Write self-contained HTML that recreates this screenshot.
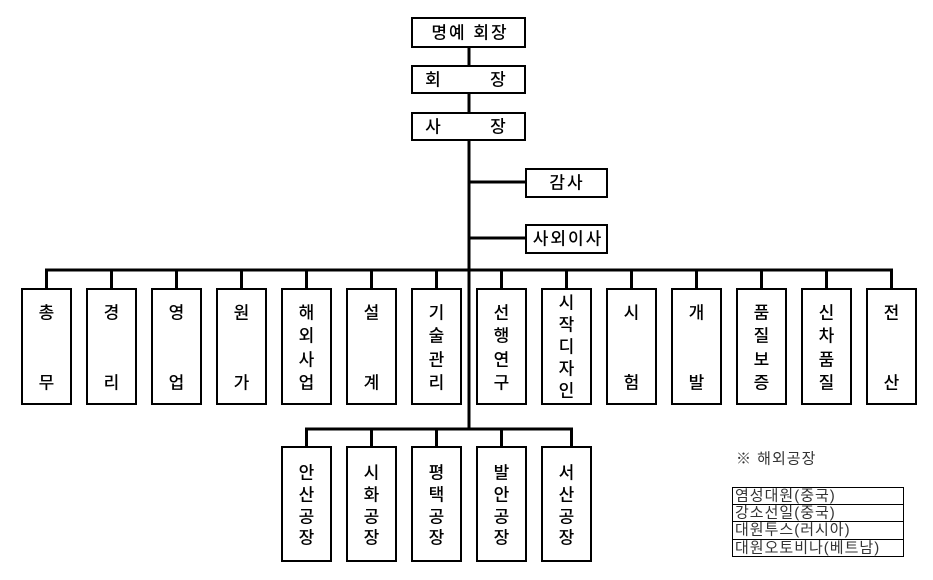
<!DOCTYPE html>
<html><head><meta charset="utf-8"><style>
html,body{margin:0;padding:0;background:#fff;}
svg{display:block;}
text{font-family:"Liberation Sans","Noto Sans CJK KR","NanumGothic",sans-serif;fill:#000;}
.t{font-size:17px;font-weight:500;text-anchor:middle;dominant-baseline:central;}
.w{letter-spacing:2px;}
.l{font-size:15px;letter-spacing:1px;fill:#333;dominant-baseline:central;}
</style></head><body>
<svg width="933" height="580" viewBox="0 0 933 580" xmlns="http://www.w3.org/2000/svg">
<g stroke="#000" stroke-width="3" fill="none">
<line x1="469" y1="47" x2="469" y2="66"/>
<line x1="469" y1="93" x2="469" y2="113"/>
<line x1="469" y1="140" x2="469" y2="429"/>
<line x1="469" y1="182" x2="526" y2="182"/>
<line x1="469" y1="238" x2="526" y2="238"/>
<line x1="45" y1="270" x2="893" y2="270"/>
<line x1="46.5" y1="270" x2="46.5" y2="289"/>
<line x1="111.5" y1="270" x2="111.5" y2="289"/>
<line x1="176.5" y1="270" x2="176.5" y2="289"/>
<line x1="241.5" y1="270" x2="241.5" y2="289"/>
<line x1="306.5" y1="270" x2="306.5" y2="289"/>
<line x1="371.5" y1="270" x2="371.5" y2="289"/>
<line x1="436.5" y1="270" x2="436.5" y2="289"/>
<line x1="501.5" y1="270" x2="501.5" y2="289"/>
<line x1="566.5" y1="270" x2="566.5" y2="289"/>
<line x1="631.5" y1="270" x2="631.5" y2="289"/>
<line x1="696.5" y1="270" x2="696.5" y2="289"/>
<line x1="761.5" y1="270" x2="761.5" y2="289"/>
<line x1="826.5" y1="270" x2="826.5" y2="289"/>
<line x1="891.5" y1="270" x2="891.5" y2="289"/>
<line x1="305" y1="429" x2="573" y2="429"/>
<line x1="306.5" y1="429" x2="306.5" y2="447"/>
<line x1="371.5" y1="429" x2="371.5" y2="447"/>
<line x1="436.5" y1="429" x2="436.5" y2="447"/>
<line x1="501.5" y1="429" x2="501.5" y2="447"/>
<line x1="571.5" y1="429" x2="571.5" y2="447"/>
</g>
<g stroke="#000" stroke-width="2" fill="#fff">
<rect x="412" y="18" width="113" height="29"/>
<rect x="412" y="66" width="113" height="27"/>
<rect x="412" y="113" width="113" height="27"/>
<rect x="526" y="169" width="81" height="28"/>
<rect x="526" y="225" width="81" height="28"/>
<rect x="22" y="289" width="49" height="115"/>
<rect x="87" y="289" width="49" height="115"/>
<rect x="152" y="289" width="49" height="115"/>
<rect x="217" y="289" width="49" height="115"/>
<rect x="282" y="289" width="49" height="115"/>
<rect x="347" y="289" width="49" height="115"/>
<rect x="412" y="289" width="49" height="115"/>
<rect x="477" y="289" width="49" height="115"/>
<rect x="542" y="289" width="49" height="115"/>
<rect x="607" y="289" width="49" height="115"/>
<rect x="672" y="289" width="49" height="115"/>
<rect x="737" y="289" width="49" height="115"/>
<rect x="802" y="289" width="49" height="115"/>
<rect x="867" y="289" width="49" height="115"/>
<rect x="282" y="447" width="49" height="114"/>
<rect x="347" y="447" width="49" height="114"/>
<rect x="412" y="447" width="49" height="114"/>
<rect x="477" y="447" width="49" height="114"/>
<rect x="542" y="447" width="49" height="114"/>
</g>
<text class="t w" x="470" y="33">명예 회장</text>
<text class="t" x="433" y="80">회</text><text class="t" x="498" y="80">장</text>
<text class="t" x="433" y="127">사</text><text class="t" x="498" y="127">장</text>
<text class="t w" x="567" y="183">감사</text>
<text class="t w" x="568" y="239">사외이사</text>

<text class="t" x="46.5" y="313">총</text><text class="t" x="46.5" y="383">무</text>
<text class="t" x="111.5" y="313">경</text><text class="t" x="111.5" y="383">리</text>
<text class="t" x="176.5" y="313">영</text><text class="t" x="176.5" y="383">업</text>
<text class="t" x="241.5" y="313">원</text><text class="t" x="241.5" y="383">가</text>
<text class="t" x="306.5" y="313">해</text><text class="t" x="306.5" y="336">외</text><text class="t" x="306.5" y="360">사</text><text class="t" x="306.5" y="383">업</text>
<text class="t" x="371.5" y="313">설</text><text class="t" x="371.5" y="383">계</text>
<text class="t" x="436.5" y="313">기</text><text class="t" x="436.5" y="336">술</text><text class="t" x="436.5" y="360">관</text><text class="t" x="436.5" y="383">리</text>
<text class="t" x="501.5" y="313">선</text><text class="t" x="501.5" y="336">행</text><text class="t" x="501.5" y="360">연</text><text class="t" x="501.5" y="383">구</text>
<text class="t" x="566.5" y="303">시</text><text class="t" x="566.5" y="325">작</text><text class="t" x="566.5" y="347">디</text><text class="t" x="566.5" y="369">자</text><text class="t" x="566.5" y="391">인</text>
<text class="t" x="631.5" y="313">시</text><text class="t" x="631.5" y="383">험</text>
<text class="t" x="696.5" y="313">개</text><text class="t" x="696.5" y="383">발</text>
<text class="t" x="761.5" y="313">품</text><text class="t" x="761.5" y="336">질</text><text class="t" x="761.5" y="360">보</text><text class="t" x="761.5" y="383">증</text>
<text class="t" x="826.5" y="313">신</text><text class="t" x="826.5" y="336">차</text><text class="t" x="826.5" y="360">품</text><text class="t" x="826.5" y="383">질</text>
<text class="t" x="891.5" y="313">전</text><text class="t" x="891.5" y="383">산</text>

<text class="t" x="306.5" y="473">안</text><text class="t" x="306.5" y="495">산</text><text class="t" x="306.5" y="517">공</text><text class="t" x="306.5" y="538">장</text>
<text class="t" x="371.5" y="473">시</text><text class="t" x="371.5" y="495">화</text><text class="t" x="371.5" y="517">공</text><text class="t" x="371.5" y="538">장</text>
<text class="t" x="436.5" y="473">평</text><text class="t" x="436.5" y="495">택</text><text class="t" x="436.5" y="517">공</text><text class="t" x="436.5" y="538">장</text>
<text class="t" x="501.5" y="473">발</text><text class="t" x="501.5" y="495">안</text><text class="t" x="501.5" y="517">공</text><text class="t" x="501.5" y="538">장</text>
<text class="t" x="566.5" y="473">서</text><text class="t" x="566.5" y="495">산</text><text class="t" x="566.5" y="517">공</text><text class="t" x="566.5" y="538">장</text>

<text class="l" x="736" y="459">※ 해외공장</text>
<g stroke="#000" stroke-width="1" fill="none">
<rect x="732.5" y="487.5" width="171" height="69"/>
<line x1="732" y1="504.5" x2="904" y2="504.5"/>
<line x1="732" y1="521.5" x2="904" y2="521.5"/>
<line x1="732" y1="539.5" x2="904" y2="539.5"/>
</g>
<text class="l" x="735" y="496">염성대원(중국)</text>
<text class="l" x="735" y="513">강소선일(중국)</text>
<text class="l" x="735" y="530">대원투스(러시아)</text>
<text class="l" x="735" y="548">대원오토비나(베트남)</text>
</svg>
</body></html>
